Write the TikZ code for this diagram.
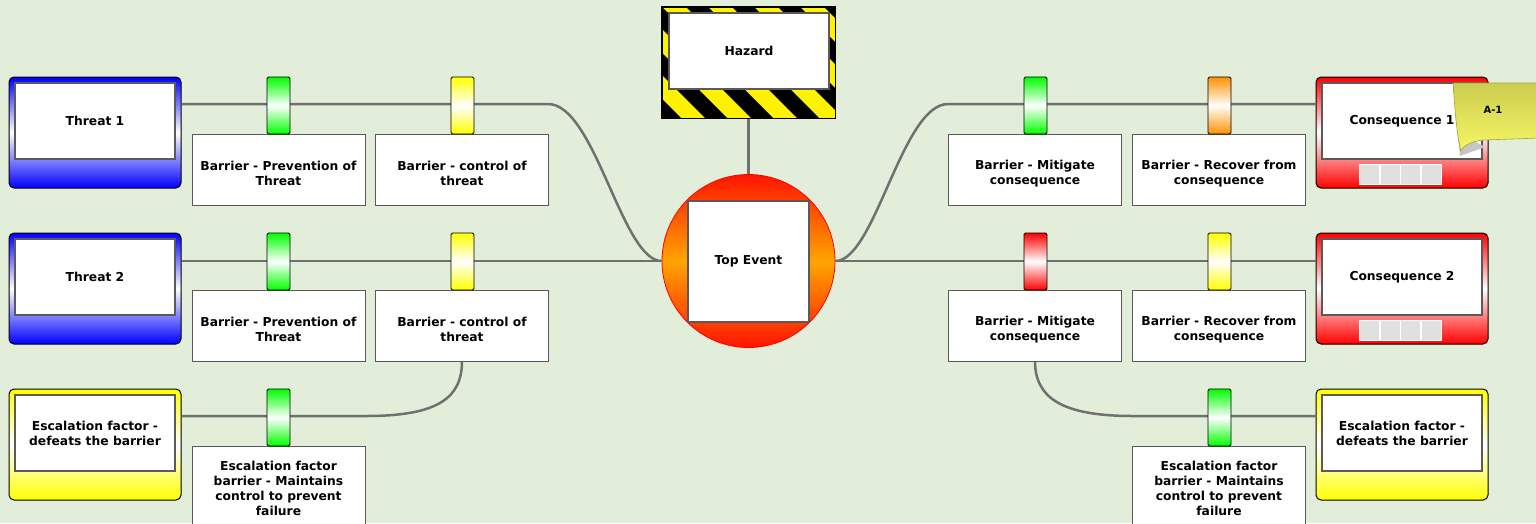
\documentclass[tikz,border=0pt]{standalone}
\usepackage{fontspec}
\setmainfont{DejaVu Sans}
\definecolor{bg}{RGB}{226,238,217}
\definecolor{linegray}{RGB}{112,112,112}
\definecolor{boxgray}{RGB}{90,90,90}
\definecolor{pegorange}{RGB}{255,145,0}
\definecolor{topred}{RGB}{255,20,0}
\definecolor{toporange}{RGB}{255,165,0}
\definecolor{notetop}{RGB}{204,204,80}
\definecolor{notebot}{RGB}{246,246,100}
\definecolor{sqgray}{RGB}{224,224,224}
\begin{document}
\begin{tikzpicture}[x=1pt,y=-1pt,
  font=\fontsize{12.3}{15}\selectfont\bfseries,
  conn/.style={draw=linegray, line width=2.5pt},
  outerbox/.style={draw=black, line width=1pt, rounded corners=5pt, minimum width=172pt, minimum height=111pt, inner sep=0pt},
  bluebox/.style={outerbox, top color=blue, bottom color=blue, middle color=white},
  redbox/.style={outerbox, top color=red, bottom color=red, middle color=white},
  yellowbox/.style={outerbox, top color=yellow, bottom color=yellow, middle color=white},
  innerbox/.style={draw=boxgray, fill=white, line width=1.3pt, minimum width=160pt, minimum height=76pt, align=center, inner sep=0pt},
  barrierbox/.style={draw=boxgray, fill=white, line width=0.8pt, minimum width=173pt, minimum height=71pt, align=center, inner sep=0pt},
  btext/.style={label={[align=center, inner sep=0pt, yshift=-4pt]center:#1}},
  peg/.style={draw=black, line width=0.8pt, rounded corners=1.5pt, minimum width=23pt, minimum height=57pt, inner sep=0pt, top color=#1, bottom color=#1, middle color=white},
  sq/.style={fill=sqgray, draw=white, line width=0.8pt, minimum size=20pt, inner sep=0pt}
]
\useasboundingbox (0,0) rectangle (1536,523);
\clip (0,0) rectangle (1536,523);
\fill[bg] (0,0) rectangle (1536,523);

% coordinates for connector bends
\coordinate (c1) at (548,104);
\coordinate (c2) at (948,104);
\coordinate (c3) at (366,416);
\coordinate (c4) at (1133,416);

% main nodes
\node[bluebox] (threat1) at (95,132.5) {};
\node[innerbox] (threat1in) at (95,121) {Threat 1};
\node[bluebox] (threat2) at (95,288.5) {};
\node[innerbox] (threat2in) at (95,277) {Threat 2};
\node[yellowbox] (escL) at (95,444.5) {};
\node[innerbox] (escLin) at (95,433) {Escalation factor -\\defeats the barrier};

\node[redbox] (cons1) at (1402,132.5) {};
\node[innerbox] (cons1in) at (1402,121) {Consequence 1};
\node[redbox] (cons2) at (1402,288.5) {};
\node[innerbox] (cons2in) at (1402,277) {Consequence 2};
\node[yellowbox] (escR) at (1402,444.5) {};
\node[innerbox] (escRin) at (1402,433) {Escalation factor -\\defeats the barrier};

% top event
\node[circle, minimum size=173pt, inner sep=0pt, draw=red, line width=0.8pt, top color=topred, bottom color=topred, middle color=toporange] (top) at (748.5,261) {};

% hazard
\node[draw=black, fill=yellow, line width=1pt, minimum width=173pt, minimum height=111pt, inner sep=0pt] (hazard) at (748.5,62.5) {};
\begin{scope}
  \clip (hazard.north west) rectangle (hazard.south east);
  \foreach \i in {-4,...,4} {
    \fill[black] ({640+46*\i},7) -- ++(22,0) -- ++(111,111) -- ++(-22,0) -- cycle;
  }
\end{scope}
\draw[black, line width=1pt] (hazard.north west) rectangle (hazard.south east);

% connectors
\draw[conn] (c1 -| threat1.east) -- (c1) .. controls (595,104) and (622,261) .. (top.west);
\draw[conn] (top.west -| threat2.east) -- (top.west);
\draw[conn] (c3 -| escL.east) -- (c3) .. controls (438,416) and (462,398) .. (462,361);
\draw[conn] (top.east) .. controls (875,261) and (902,104) .. (c2) -- (c2 -| cons1.west);
\draw[conn] (top.east) -- (top.east -| cons2.west);
\draw[conn] (c4 -| escR.west) -- (c4) .. controls (1062,416) and (1035,398) .. (1035,361);
\draw[conn] (hazard.south) -- (top.north);

% inner boxes of hazard and top event
\node[innerbox] (hazardin) at (749,51) {Hazard};
\node[draw=boxgray, fill=white, line width=1.3pt, minimum size=121pt, inner sep=0pt] (topin) at (748.5,261.5) {\raisebox{-2pt}{Top Event}};

% barrier boxes
\node[barrierbox, btext={Barrier - Prevention of\\Threat}] (prev1) at (278.5,169.5) {};
\node[barrierbox, btext={Barrier - control of\\threat}] (ctrl1) at (462,169.5) {};
\node[barrierbox, btext={Barrier - Prevention of\\Threat}] (prev2) at (278.5,325.5) {};
\node[barrierbox, btext={Barrier - control of\\threat}] (ctrl2) at (462,325.5) {};
\node[barrierbox, minimum height=84pt] (escbarL) at (278.5,488) {Escalation factor\\barrier - Maintains\\control to prevent\\failure};

\node[barrierbox, btext={Barrier - Mitigate\\consequence}] (mit1) at (1035,169.5) {};
\node[barrierbox, btext={Barrier - Recover from\\consequence}] (rec1) at (1219,169.5) {};
\node[barrierbox, btext={Barrier - Mitigate\\consequence}] (mit2) at (1035,325.5) {};
\node[barrierbox, btext={Barrier - Recover from\\consequence}] (rec2) at (1219,325.5) {};
\node[barrierbox, minimum height=84pt] (escbarR) at (1219,488) {Escalation factor\\barrier - Maintains\\control to prevent\\failure};

% pegs
\node[peg=green] (p1) at (278.5,105.5) {};
\node[peg=yellow] (p2) at (462.5,105.5) {};
\node[peg=green] (p3) at (278.5,261.5) {};
\node[peg=yellow] (p4) at (462.5,261.5) {};
\node[peg=green] (p5) at (278.5,417.5) {};
\node[peg=green] (p6) at (1035.5,105.5) {};
\node[peg=pegorange] (p7) at (1219.5,105.5) {};
\node[peg=red] (p8) at (1035.5,261.5) {};
\node[peg=yellow] (p9) at (1219.5,261.5) {};
\node[peg=green] (p10) at (1219.5,417.5) {};

% small grey squares on consequences
\foreach \n/\yy in {1/174, 2/330} {
  \foreach \k in {0,...,3} {
    \node[sq] (sq\n\k) at ({1369.5+20.5*\k},\yy) {};
  }
}

% sticky note
\fill[gray!45] (1457,131) -- (1485,147) -- (1460,156) -- cycle;
\shade[top color=notetop, bottom color=notebot, draw=notetop!80!black, line width=0.6pt]
  (1453,83) -- (1540,83) -- (1540,138) -- (1484,140)
  .. controls (1472,141) and (1464,145) .. (1461,151)
  .. controls (1456,130) and (1455,110) .. (1453,83) -- cycle;
\node[font=\fontsize{10}{12}\selectfont\bfseries] (note) at (1493,110) {A-1};
\end{tikzpicture}
\end{document}
